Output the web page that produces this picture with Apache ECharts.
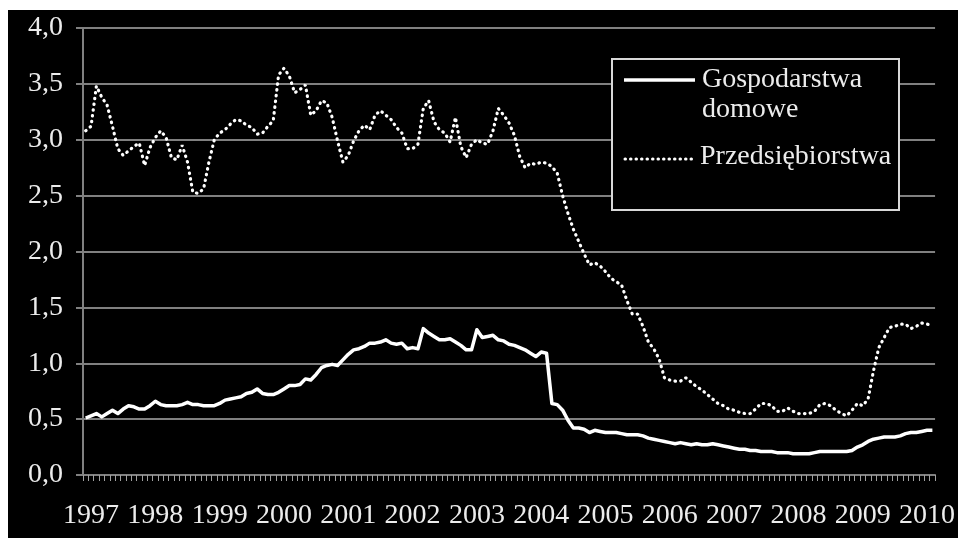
<!DOCTYPE html>
<html>
<head>
<meta charset="utf-8">
<script src="https://cdn.jsdelivr.net/npm/echarts@6/dist/echarts.min.js"></script>
<style>
  html, body { margin: 0; padding: 0; background: #ffffff; }
  #chart { position: absolute; left: 8px; top: 10px; width: 950px; height: 528px; background: #000000; }
</style>
</head>
<body>
<div id="chart"></div>
<script>
// Monthly series, December 1996 through February 2010
const startYear = 1996;
const startMonth = 12;

const seriesNames = ['Gospodarstwa domowe', 'Przedsiębiorstwa'];

// Households (solid line)
const households = [
  0.51, 0.53, 0.55, 0.52, 0.55, 0.58, 0.55, 0.59, 0.62, 0.61, 0.59, 0.59,
  0.62, 0.66, 0.63, 0.62, 0.62, 0.62, 0.63, 0.65, 0.63, 0.63, 0.62, 0.62,
  0.62, 0.64, 0.67, 0.68, 0.69, 0.70, 0.73, 0.74, 0.77, 0.73, 0.72, 0.72,
  0.74, 0.77, 0.80, 0.80, 0.81, 0.86, 0.85, 0.90, 0.96, 0.98, 0.99, 0.98,
  1.03, 1.08, 1.12, 1.13, 1.15, 1.18, 1.18, 1.19, 1.21, 1.18, 1.17, 1.18,
  1.13, 1.14, 1.13, 1.31, 1.27, 1.24, 1.21, 1.21, 1.22, 1.19, 1.16, 1.12,
  1.12, 1.30, 1.23, 1.24, 1.25, 1.21, 1.20, 1.17, 1.16, 1.14, 1.12, 1.09,
  1.06, 1.10, 1.09, 0.64, 0.63, 0.58, 0.49, 0.42, 0.42, 0.41, 0.38, 0.40,
  0.39, 0.38, 0.38, 0.38, 0.37, 0.36, 0.36, 0.36, 0.35, 0.33, 0.32, 0.31,
  0.30, 0.29, 0.28, 0.29, 0.28, 0.27, 0.28, 0.27, 0.27, 0.28, 0.27, 0.26,
  0.25, 0.24, 0.23, 0.23, 0.22, 0.22, 0.21, 0.21, 0.21, 0.20, 0.20, 0.20,
  0.19, 0.19, 0.19, 0.19, 0.20, 0.21, 0.21, 0.21, 0.21, 0.21, 0.21, 0.22,
  0.25, 0.27, 0.30, 0.32, 0.33, 0.34, 0.34, 0.34, 0.35, 0.37, 0.38, 0.38,
  0.39, 0.40, 0.40
];

// Enterprises (dotted line)
const enterprises = [
  3.08, 3.12, 3.48, 3.38, 3.31, 3.12, 2.92, 2.86, 2.90, 2.94, 2.97, 2.77,
  2.93, 3.02, 3.08, 3.02, 2.84, 2.82, 2.95, 2.80, 2.53, 2.52, 2.56, 2.80,
  3.00, 3.06, 3.09, 3.14, 3.18, 3.17, 3.13, 3.11, 3.05, 3.06, 3.12, 3.17,
  3.58, 3.64, 3.57, 3.42, 3.45, 3.49, 3.22, 3.26, 3.35, 3.33, 3.20, 2.99,
  2.80, 2.86, 2.99, 3.08, 3.13, 3.09, 3.22, 3.26, 3.22, 3.18, 3.11, 3.06,
  2.92, 2.92, 2.96, 3.28, 3.35, 3.16, 3.09, 3.06, 2.98, 3.20, 2.94, 2.84,
  2.96, 3.00, 2.97, 2.96, 3.08, 3.28, 3.22, 3.15, 3.04, 2.85, 2.75, 2.79,
  2.78, 2.80, 2.79, 2.76, 2.70, 2.50, 2.34, 2.20, 2.09, 1.98, 1.88, 1.90,
  1.87, 1.82, 1.76, 1.73, 1.70, 1.56, 1.44, 1.44, 1.33, 1.19, 1.13, 1.04,
  0.87, 0.85, 0.84, 0.84, 0.87, 0.83, 0.79, 0.76, 0.72, 0.68, 0.64, 0.62,
  0.59, 0.58, 0.56, 0.55, 0.55, 0.59, 0.64, 0.64, 0.62, 0.57, 0.57, 0.60,
  0.57, 0.55, 0.55, 0.55, 0.57, 0.63, 0.64, 0.62, 0.58, 0.55, 0.53, 0.58,
  0.64, 0.62, 0.68, 0.93, 1.14, 1.23, 1.32, 1.33, 1.35, 1.35, 1.31, 1.33,
  1.36, 1.35, 1.34
];

// Month categories "YYYY-MM"
const months = [];
for (let i = 0; i < households.length; i++) {
  const m0 = startMonth - 1 + i;
  const y = startYear + Math.floor(m0 / 12);
  const m = (m0 % 12) + 1;
  months.push(y + '-' + (m < 10 ? '0' + m : '' + m));
}

const FONT = '"Liberation Serif", "Times New Roman", serif';
const GRID_GRAY = '#808080';
const TEXT = '#ececec';

const chart = echarts.init(document.getElementById('chart'), null, { renderer: 'canvas' });

// Legend box drawn as graphic elements in the upper right of the plot
const legendLines = seriesNames[0].split(' ');
const legendGraphic = [
  {
    type: 'rect', left: 603, top: 48, z: 100,
    shape: { width: 287, height: 151 },
    style: { fill: '#000000', stroke: '#d8d8d8', lineWidth: 2 }
  },
  {
    type: 'line', z: 101,
    shape: { x1: 616, y1: 70, x2: 687, y2: 70 },
    style: { stroke: '#ffffff', lineWidth: 3.5 }
  },
  {
    type: 'text', left: 694, top: 55, z: 101,
    style: { text: legendLines.join('\n'), fill: TEXT, font: '28px ' + FONT, lineHeight: 30 }
  },
  {
    type: 'line', z: 101,
    shape: { x1: 617, y1: 149, x2: 687, y2: 149 },
    style: { stroke: '#ffffff', lineWidth: 3, lineDash: [0.5, 5], lineCap: 'round' }
  },
  {
    type: 'text', left: 692, top: 133, z: 101,
    style: { text: seriesNames[1], fill: TEXT, font: '28px ' + FONT }
  }
];

chart.setOption({
  backgroundColor: '#000000',
  animation: false,
  grid: { left: 75, top: 18, right: 16, bottom: 63, containLabel: false },
  xAxis: {
    type: 'category',
    data: months,
    boundaryGap: true,
    axisLine: { show: true, lineStyle: { color: GRID_GRAY, width: 2 } },
    axisTick: { show: true, interval: 0, length: 6, lineStyle: { color: '#a0a0a0', width: 1 } },
    axisLabel: {
      interval: function (index) { return index % 12 === 1; },
      formatter: function (value) { return value.slice(0, 4); },
      color: TEXT,
      fontFamily: FONT,
      fontSize: 28,
      margin: 27
    },
    splitLine: { show: false }
  },
  yAxis: {
    type: 'value',
    min: 0,
    max: 4,
    interval: 0.5,
    axisLine: { show: true, lineStyle: { color: GRID_GRAY, width: 2 } },
    axisTick: { show: true, length: 7, lineStyle: { color: GRID_GRAY, width: 2 } },
    axisLabel: {
      formatter: function (v) { return v.toFixed(1).replace('.', ','); },
      color: TEXT,
      fontFamily: FONT,
      fontSize: 28,
      margin: 20
    },
    splitLine: { show: true, lineStyle: { color: GRID_GRAY, width: 2 } }
  },
  series: [
    {
      name: seriesNames[0],
      type: 'line',
      data: households,
      showSymbol: false,
      symbol: 'none',
      lineStyle: { color: '#ffffff', width: 3.5, join: 'round' },
      z: 3
    },
    {
      name: seriesNames[1],
      type: 'line',
      data: enterprises,
      showSymbol: false,
      symbol: 'none',
      lineStyle: { color: '#ffffff', width: 3.2, type: [0.5, 5.3], cap: 'round' },
      z: 3
    }
  ],
  graphic: legendGraphic
});
</script>
</body>
</html>
